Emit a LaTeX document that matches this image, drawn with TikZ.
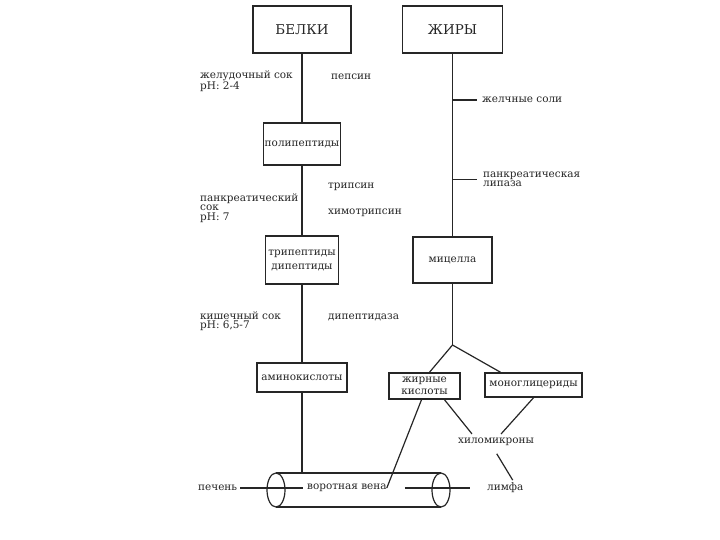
\documentclass[tikz,border=0pt]{standalone}
\usepackage{fontspec}
\setmainfont{DejaVu Serif}
\usetikzlibrary{positioning,calc}

\begin{document}
\begin{tikzpicture}[
  x=1bp,y=-1bp,
  font=\fontsize{10.5}{10}\selectfont,
  every node/.style={text=black!85},
  box/.style={rectangle,draw=black!85,line width=1.5bp,align=center,inner sep=1pt},
  head/.style={box,minimum height=47bp,font=\fontsize{13.5}{14}\selectfont},
  lbl/.style={align=left,inner sep=0pt,anchor=west,font=\fontsize{10.5}{9.5}\selectfont},
  ln/.style={draw=black!85,line width=1.2bp}
]
\useasboundingbox (0,0) rectangle (720,540);
\fill[white] (0,0) rectangle (720,540);

% left column
\node[head,minimum width=98bp] (belki) at (302,29.5) {БЕЛКИ};
\node[box,minimum width=76bp,minimum height=42bp] (poly) at (302,144) {полипептиды};
\node[box,minimum width=73bp,minimum height=48bp,font=\fontsize{10.5}{14}\selectfont] (tri) at (302,260) {трипептиды\\дипептиды};
\node[box,minimum width=90bp,minimum height=29bp] (amino) at (302,377.5) {аминокислоты};

\node[lbl] (gastric) at (200,81) {желудочный сок\\pH: 2-4};
\node[lbl] (pepsin) at (331,77) {пепсин};
\node[lbl] (pancjuice) at (200,208) {панкреатический\\сок\\pH: 7};
\node[lbl] (trypsin) at (328,187) {трипсин};
\node[lbl] (chymo) at (328,213) {химотрипсин};
\node[lbl] (intjuice) at (200,321) {кишечный сок\\pH: 6,5-7};
\node[lbl] (dipept) at (328,317) {дипептидаза};

% right column
\node[head,minimum width=100bp] (zhiry) at (452.5,29.5) {ЖИРЫ};
\node[box,minimum width=79bp,minimum height=46bp] (micella) at (452.5,260) {мицелла};
\node[box,minimum width=71bp,minimum height=26bp,font=\fontsize{10.5}{12}\selectfont] (fatty) at (424.5,386) {жирные\\кислоты};
\node[box,minimum width=97bp,minimum height=24bp] (mono) at (533.5,385) {моноглицериды};
\coordinate (fork) at (452.5,345);

\node[lbl] (bile) at (482,100) {желчные соли};
\node[lbl] (lipase) at (483,179.5) {панкреатическая\\липаза};
\node[lbl] (chylo) at (458,442) {хиломикроны};

% vein
\node[lbl] (pechen) at (198,488) {печень};
\node[lbl] (vena) at (307,488) {воротная вена};
\node[lbl] (limfa) at (487,488) {лимфа};
\coordinate (vtop) at (302,473);
\draw[ln] (276,490) ellipse [x radius=9,y radius=17];
\draw[ln] (441,490) ellipse [x radius=9,y radius=17];
\draw[ln] (276,473) -- (441,473);
\draw[ln] (276,507) -- (441,507);

% connectors
\draw[ln] (belki) -- (poly);
\draw[ln] (poly) -- (tri);
\draw[ln] (tri) -- (amino);
\draw[ln] (amino) -- (vtop);
\draw[ln] (zhiry) -- (micella);
\draw[ln] (bile.west -| zhiry.south) -- ([xshift=-5bp]bile.west);
\draw[ln] (lipase.west -| zhiry.south) -- ([xshift=-6bp]lipase.west);
\draw[ln] (micella) -- (fork);
\draw[ln] (fork) -- ([xshift=5bp]fatty.north);
\draw[ln] (fork) -- ([xshift=-33bp]mono.north);
\draw[ln] ([xshift=-3bp]fatty.south) -- (vena.east);
\draw[ln] ([xshift=20bp]fatty.south) -- ([xshift=14bp,yshift=4bp]chylo.north west);
\draw[ln] (mono.south) -- ([xshift=5bp,yshift=4bp]chylo.north);
\draw[ln,shorten <=9bp,shorten >=3bp] ([xshift=-4bp]chylo.south) -- ([xshift=9bp]limfa.north);
\draw[ln,shorten <=3bp,shorten >=4bp] (pechen.east) -- (vena.west);
\draw[ln,shorten <=18bp,shorten >=17bp] (vena.east) -- (limfa.west);
\end{tikzpicture}
\end{document}
